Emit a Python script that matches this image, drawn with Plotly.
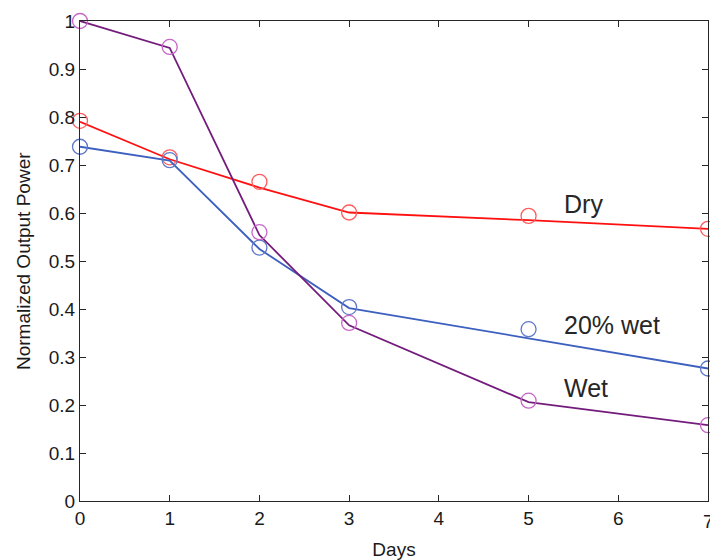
import plotly.graph_objects as go

days = [0, 1, 2, 3, 5, 7]
dry_meas = [0.792, 0.716, 0.665, 0.601, 0.594, 0.567]
wet20_meas = [0.738, 0.710, 0.528, 0.404, 0.358, 0.276]
wet_meas = [1.000, 0.946, 0.560, 0.371, 0.209, 0.158]
dry_fit = [0.790, 0.712, 0.653, 0.601, 0.585, 0.567]
wet20_fit = [0.738, 0.709, 0.525, 0.402, 0.339, 0.276]
wet_fit = [1.000, 0.944, 0.554, 0.366, 0.206, 0.158]
labels = ["Dry", "20% wet", "Wet"]
label_x = [5.37, 5.37, 5.37]
label_y = [0.619, 0.367, 0.236]
x_ticks = [0, 1, 2, 3, 4, 5, 6, 7]
y_ticks = [0, 0.1, 0.2, 0.3, 0.4, 0.5, 0.6, 0.7, 0.8, 0.9, 1]
y_tick_text = ["0", "0.1", "0.2", "0.3", "0.4", "0.5", "0.6", "0.7", "0.8", "0.9", "1"]
y_title = "Normalized Output Power"
x_title = "Days"

FONT = "Liberation Sans, Arial"
series = [
    (dry_fit, dry_meas, "#ff1010", "#ff5c5c"),
    (wet20_fit, wet20_meas, "#3d5fbf", "#5f79c9"),
    (wet_fit, wet_meas, "#741c7c", "#c765c7"),
]

fig = go.Figure()
for fit, meas, lc, mc in series:
    fig.add_trace(go.Scatter(x=days, y=fit, mode="lines",
                             line=dict(color=lc, width=1.8),
                             showlegend=False, cliponaxis=False))
    fig.add_trace(go.Scatter(x=days, y=meas, mode="markers",
                             marker=dict(symbol="circle-open", size=15,
                                         color=mc, line=dict(width=1.3, color=mc)),
                             showlegend=False, cliponaxis=False))

for t, xx, yy in zip(labels, label_x, label_y):
    fig.add_annotation(x=xx, y=yy, text=t, showarrow=False, xanchor="left",
                       yanchor="middle",
                       font=dict(family=FONT, size=25, color="#262626"))

# last x tick label sits on the figure edge (partly cut off, as in the original)
fig.add_annotation(x=x_ticks[-1], y=0, yref="y", xref="x", text=str(x_ticks[-1]),
                   showarrow=False, xanchor="center", yanchor="top", yshift=-8,
                   font=dict(family=FONT, size=19, color="#1a1a1a"))

# y-axis title placed closer to the figure edge than plotly's standoff allows
fig.add_annotation(x=0, y=0.5, xref="paper", yref="paper", text=y_title,
                   textangle=-90, showarrow=False, xanchor="center", yanchor="middle",
                   xshift=-57, font=dict(family=FONT, size=19, color="#1a1a1a"))

axis_common = dict(showgrid=False, zeroline=False, showline=True, linecolor="#262626",
                   linewidth=1, mirror="ticks", ticks="inside", ticklen=6,
                   tickcolor="#262626", automargin=False,
                   tickfont=dict(family=FONT, size=19, color="#1a1a1a"))

fig.update_xaxes(range=[0, 7], tickvals=x_ticks, ticktext=[str(v) for v in x_ticks],
                 title=dict(text=x_title, standoff=14,
                            font=dict(family=FONT, size=19, color="#1a1a1a")),
                 **axis_common)
fig.update_yaxes(range=[0, 1], tickvals=y_ticks, ticktext=y_tick_text,
                 **axis_common)

fig.update_layout(width=710, height=560, paper_bgcolor="white", plot_bgcolor="white",
                  margin=dict(l=80, r=2, t=21, b=59))

fig.write_html("out.html", config={"displayModeBar": False},
               post_script="document.body.style.margin='0';document.body.style.overflow='hidden';")
